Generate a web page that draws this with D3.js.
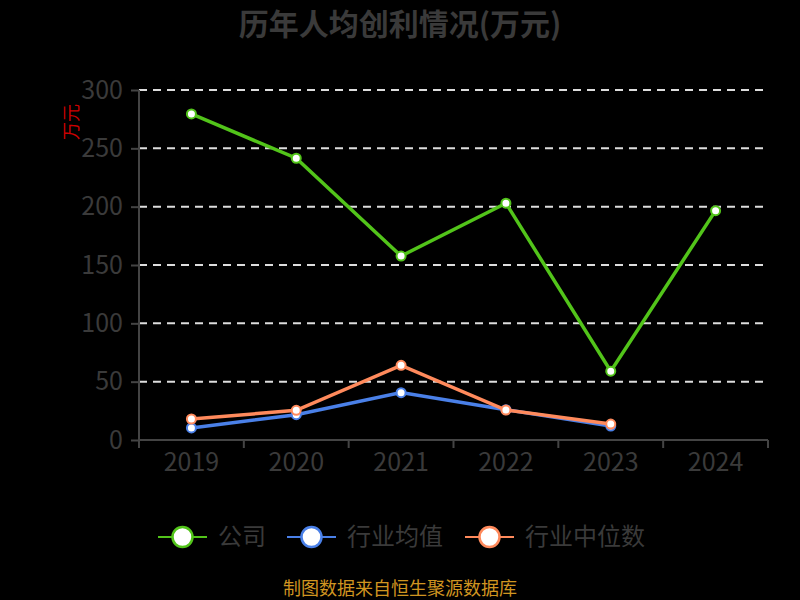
<!DOCTYPE html>
<html lang="zh">
<head>
<meta charset="UTF-8">
<script src="https://cdn.jsdelivr.net/npm/d3@7"></script>
<style>
    body { margin: 0; background: #000; }
    svg text { font-family: "Noto Sans CJK SC", "Noto Sans", sans-serif; }
</style>
</head>
<body>
<div id="chart"></div>
<script>
    // data
    const years = ["2019", "2020", "2021", "2022", "2023", "2024"];
    const company = [279.5, 241.5, 157.7, 203, 59, 196.6];
    const industryMean = [10.3, 21.7, 40.6, 26, 12, null];
    const industryMedian = [18, 25.4, 64, 25.7, 13.7, null];
    const seriesNames = ["公司", "行业均值", "行业中位数"];
    const yTicks = [0, 50, 100, 150, 200, 250, 300];

    const colors = ["#52c41a", "#4a80e8", "#ff8a5c"];
    const width = 800, height = 600;
    const margin = { top: 90, right: 32, bottom: 160, left: 139 };

    const svg = d3.select("#chart").append("svg")
        .attr("width", width)
        .attr("height", height)
        .style("background", "#000");

    // title
    svg.append("text")
        .attr("x", 400).attr("y", 35)
        .attr("text-anchor", "middle")
        .attr("font-size", 30).attr("font-weight", "bold")
        .attr("fill", "#3a3a3a")
        .text("历年人均创利情况(万元)");

    const x = d3.scaleBand()
        .domain(years)
        .range([margin.left, width - margin.right]);

    const y = d3.scaleLinear()
        .domain([0, 300])
        .range([height - margin.bottom, margin.top]);

    // gridlines
    svg.append("g")
        .selectAll("line")
        .data(yTicks.filter(d => d > 0))
        .enter().append("line")
        .attr("x1", margin.left).attr("x2", width - margin.right)
        .attr("y1", d => y(d)).attr("y2", d => y(d))
        .attr("stroke", "#dddddd")
        .attr("stroke-width", 2)
        .attr("stroke-dasharray", "8,6");

    // y axis
    const yAxis = svg.append("g")
        .attr("transform", `translate(${margin.left},0)`)
        .call(d3.axisLeft(y).tickValues(yTicks).tickSize(8).tickPadding(8));
    yAxis.select(".domain").attr("stroke", "#444").attr("stroke-width", 2)
        .attr("d", `M0,${y(300)}V${y(0) + 8}`);
    yAxis.selectAll(".tick line").attr("stroke", "#444").attr("stroke-width", 2);
    yAxis.selectAll(".tick text").attr("fill", "#3a3a3a").attr("font-size", 25)
        .attr("font-family", "'Open Sans', 'Noto Sans', sans-serif");

    // x axis
    const xAxis = svg.append("g")
        .attr("transform", `translate(0,${y(0)})`)
        .call(d3.axisBottom(x).tickSize(0).tickPadding(13));
    xAxis.select(".domain").attr("stroke", "#444").attr("stroke-width", 2)
        .attr("d", `M${margin.left},0H${width - margin.right}`);
    xAxis.selectAll(".tick text").attr("fill", "#3a3a3a").attr("font-size", 25)
        .attr("font-family", "'Open Sans', 'Noto Sans', sans-serif");
    // boundary ticks between categories
    xAxis.append("g").selectAll("line")
        .data(d3.range(years.length + 1))
        .enter().append("line")
        .attr("x1", i => margin.left + i * x.bandwidth())
        .attr("x2", i => margin.left + i * x.bandwidth())
        .attr("y1", 0).attr("y2", 8)
        .attr("stroke", "#444").attr("stroke-width", 2);

    // y axis name
    svg.append("text")
        .attr("transform", "translate(78,122) rotate(-90)")
        .attr("text-anchor", "middle")
        .attr("font-size", 18)
        .attr("fill", "#cc0000")
        .text("万元");

    // lines
    const seriesData = [company, industryMean, industryMedian];
    const line = d3.line()
        .defined(d => d.v !== null)
        .x(d => x(d.year) + x.bandwidth() / 2)
        .y(d => y(d.v));

    seriesData.forEach((values, i) => {
        const pts = years.map((yr, j) => ({ year: yr, v: values[j] }));
        svg.append("path")
            .datum(pts)
            .attr("fill", "none")
            .attr("stroke", colors[i])
            .attr("stroke-width", 3.5)
            .attr("d", line);
        svg.append("g").selectAll("circle")
            .data(pts.filter(d => d.v !== null))
            .enter().append("circle")
            .attr("cx", d => x(d.year) + x.bandwidth() / 2)
            .attr("cy", d => y(d.v))
            .attr("r", 4.5)
            .attr("fill", "#fff")
            .attr("stroke", colors[i])
            .attr("stroke-width", 2);
    });

    // legend
    const legendX = [158, 287, 465];
    const legend = svg.append("g");
    seriesNames.forEach((name, i) => {
        const g = legend.append("g").attr("transform", `translate(${legendX[i]},537)`);
        g.append("line").attr("x1", 0).attr("x2", 49).attr("y1", 0).attr("y2", 0)
            .attr("stroke", colors[i]).attr("stroke-width", 2);
        g.append("circle").attr("cx", 24.5).attr("cy", 0).attr("r", 10)
            .attr("fill", "#fff").attr("stroke", colors[i]).attr("stroke-width", 2.5);
        g.append("text").attr("x", 60).attr("y", 0)
            .attr("dy", "0.35em")
            .attr("font-size", 24).attr("fill", "#3a3a3a")
            .text(name);
    });

    // source
    svg.append("text")
        .attr("x", 400).attr("y", 589)
        .attr("dy", "0.35em")
        .attr("text-anchor", "middle")
        .attr("font-size", 18)
        .attr("fill", "#d09520")
        .text("制图数据来自恒生聚源数据库");
</script>
</body>
</html>
